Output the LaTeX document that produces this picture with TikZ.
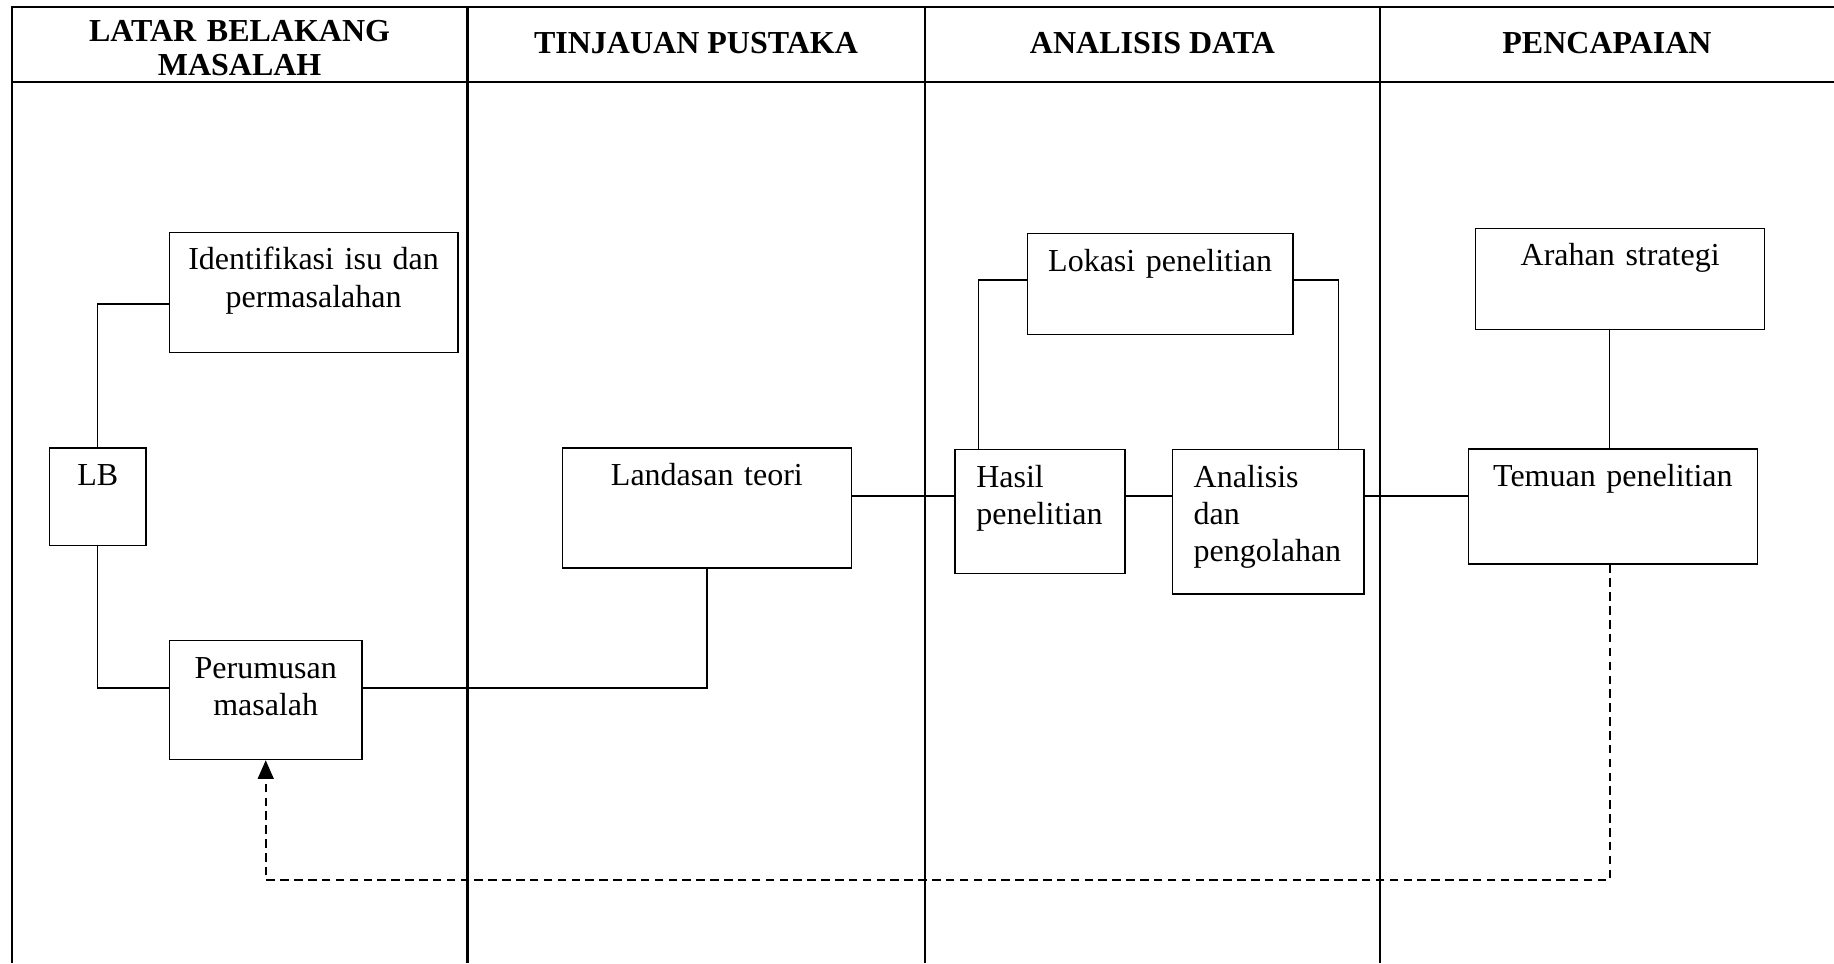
\documentclass[tikz,border=0pt]{standalone}
\usepackage{fontspec}
\setmainfont{Liberation Serif}
\usepackage{tikz}
\usetikzlibrary{arrows.meta}
\newcommand{\boxFont}[0]{\fontsize{12pt}{13.9pt}\selectfont}
\newcommand{\headFont}[0]{\fontsize{12pt}{12.8pt}\selectfont\bfseries}

\begin{document}
\begin{tikzpicture}[x=0.375pt, y=-0.375pt, line width=0.5pt]
  \tikzset{
    box/.style={draw, anchor=north west, inner sep=0pt, align=center, text height=14.1pt, font=\boxFont},
    leftbox/.style={box, align=left, inner xsep=8pt},
    colhead/.style={anchor=base, align=center, font=\headFont},
    tableline/.style={line width=0.8pt},
    feedback/.style={line width=0.6pt, dash pattern=on 3.2pt off 2pt, -{Triangle[length=7pt,width=6pt]}}
  }
  \useasboundingbox (0,0) rectangle (1834,963);
  \draw[tableline] (1834,6.7) -- (11.7,6.7) -- (11.7,963)
    (11.7,81.7) -- (1834,81.7)
    (467.5,6.7) -- (467.5,963)
    (925,6.7) -- (925,963)
    (1380,6.7) -- (1380,963);
  \node[colhead, text width=160pt] (hlatar) at (239.6,41.5) {LATAR BELAKANG\\MASALAH};
  \node[colhead] (htinjau) at (696,53.3) {TINJAUAN PUSTAKA};
  \node[colhead] (hanalisis) at (1152.5,53.3) {ANALISIS DATA};
  \node[colhead] (hcapai) at (1607,53.3) {PENCAPAIAN};
  \node[box, text width=108.2pt, text depth=30.9pt] (iden) at (168.7,231.7) {Identifikasi isu dan\\permasalahan};
  \node[box, text width=36.1pt, text depth=22.5pt] (lb) at (49,447.3) {LB};
  \node[box, text width=72.2pt, text depth=30.5pt] (rumus) at (168.8,640) {Perumusan\\masalah};
  \node[box, text width=108.4pt, text depth=30.9pt] (teori) at (561.7,447.3) {Landasan teori};
  \node[box, text width=99.6pt, text depth=23.8pt] (lokasi) at (1026.7,233) {Lokasi penelitian};
  \node[leftbox, text width=47.75pt, text depth=32.3pt] (hasil) at (954.3,449) {Hasil\\penelitian};
  \node[leftbox, text width=55.85pt, text depth=40pt] (olah) at (1171.7,449) {Analisis\\dan\\pengolahan};
  \node[box, text width=108.4pt, text depth=23.9pt] (arahan) at (1475,227.7) {Arahan strategi};
  \node[box, text width=108.4pt, text depth=29pt] (temuan) at (1467.7,448.3) {Temuan penelitian};
  \coordinate (mid) at (0,496);
  \coordinate (ret) at (0,880);
  \draw ([yshift=-4.35pt]iden.west) -| (lb.north);
  \draw (lb.south) |- ([yshift=4.6pt]rumus.west);
  \draw ([yshift=4.6pt]rumus.east) -| (teori.south);
  \draw (teori.east |- mid) -- (hasil.west |- mid);
  \draw (hasil.east |- mid) -- (olah.west |- mid);
  \draw (olah.east |- mid) -- (temuan.west |- mid);
  \draw ([xshift=-23.1pt]hasil.north) |- ([yshift=1.6pt]lokasi.west);
  \draw ([yshift=1.6pt]lokasi.east) -| ([xshift=26.3pt]olah.north);
  \draw ([xshift=-4pt]arahan.south) -- ([xshift=-4pt]arahan.south |- temuan.north);
  \draw[feedback] ([xshift=-1.2pt]temuan.south) -- ([xshift=-1.2pt]temuan.south |- ret) -| (rumus.south);
\end{tikzpicture}
\end{document}
